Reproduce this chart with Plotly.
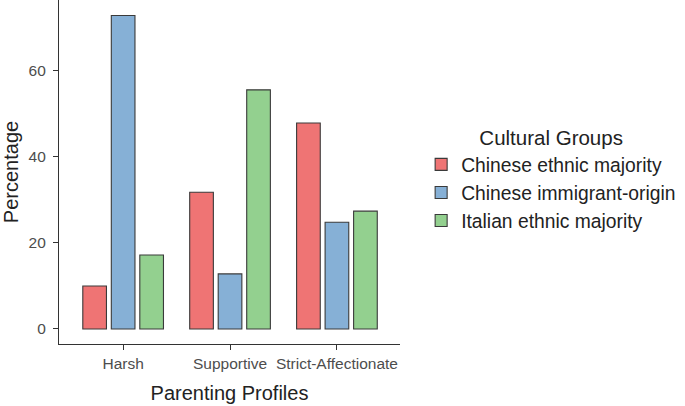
import plotly.graph_objects as go

profiles = ["Harsh", "Supportive", "Strict-Affectionate"]
groups = ["Chinese ethnic majority", "Chinese immigrant-origin", "Italian ethnic majority"]
chinese_majority = [10.0, 31.8, 47.9]
chinese_immigrant = [72.9, 12.8, 24.8]
italian_majority = [17.2, 55.6, 27.4]
colors = ["#EF7474", "#86B0D6", "#93D08F"]

fig = go.Figure()
for name, vals, col in zip(groups, [chinese_majority, chinese_immigrant, italian_majority], colors):
    fig.add_trace(go.Bar(
        x=profiles, y=vals, name=name,
        marker=dict(color=col, line=dict(color="#3a3a3a", width=1.1)),
    ))

fig.update_layout(
    width=685, height=406,
    barmode="group", bargap=0.2, bargroupgap=0.17,
    plot_bgcolor="white", paper_bgcolor="white",
    margin=dict(l=59, r=285, t=0, b=62, autoexpand=False),
    font=dict(family="Liberation Sans, Arial, sans-serif", color="#222222"),
    legend=dict(
        x=1.062, y=0.655, xanchor="left", yanchor="top",
        title=dict(text="Cultural Groups", side="top center", font=dict(size=20.5, color="#222222")),
        font=dict(size=19.3, color="#222222"),
        tracegroupgap=0, itemwidth=30,
    ),
    showlegend=True,
)
fig.update_xaxes(
    range=[-0.6, 2.59], automargin=False,
    showline=True, linecolor="#333333", linewidth=1.2,
    ticks="outside", ticklen=5, tickcolor="#333333",
    tickfont=dict(size=15.5, color="#4d4d4d"),
    title=dict(text="Parenting Profiles", font=dict(size=20, color="#222222")),
    showgrid=False,
)
fig.update_yaxes(
    range=[-3.5, 76.5], automargin=False,
    tickvals=[0, 20, 40, 60],
    showline=True, linecolor="#333333", linewidth=1.2,
    ticks="outside", ticklen=5, tickcolor="#333333",
    tickfont=dict(size=15.5, color="#4d4d4d"),
    ticklabelstandoff=4,
    title=dict(text="Percentage", font=dict(size=20, color="#222222")),
    showgrid=False, zeroline=False,
)
fig.write_html("out.html", post_script="document.body.style.margin='0';",
               config={"displayModeBar": False})
